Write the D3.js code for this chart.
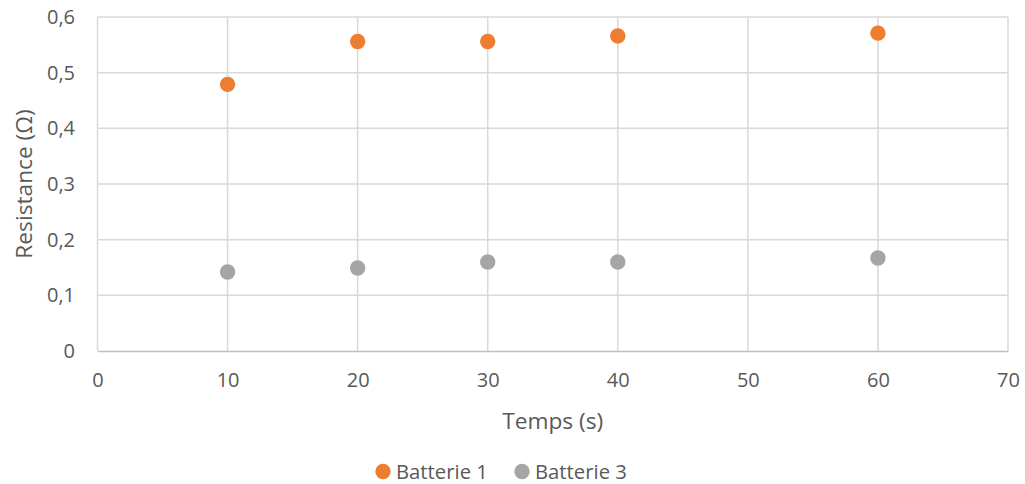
<!DOCTYPE html>
<html>
<head>
<meta charset="utf-8">
<script src="https://cdn.jsdelivr.net/npm/d3@7"></script>
<style>
  body { margin: 0; background: #fff; overflow: hidden; }
  text { font-family: "Open Sans", sans-serif; fill: #595959; }
</style>
</head>
<body>
<div id="graph"></div>
<script>
// data
const temps = [10, 20, 30, 40, 60];
const batterie1 = [0.479, 0.556, 0.556, 0.566, 0.571];
const batterie3 = [0.142, 0.149, 0.160, 0.160, 0.167];
const xTicks = [0, 10, 20, 30, 40, 50, 60, 70];
const yTicks = [0, 0.1, 0.2, 0.3, 0.4, 0.5, 0.6];
const seriesNames = ["Batterie 1", "Batterie 3"];
const colors = ["#ED7D31", "#A5A5A5"];

var margin = { top: 17, right: 17, bottom: 133, left: 97.5 },
  width = 1025 - margin.left - margin.right,
  height = 484 - margin.top - margin.bottom;

var svg = d3.select("#graph")
  .append("svg")
  .attr("width", 1025)
  .attr("height", 484)
  .style("display", "block");

var g = svg.append("g")
  .attr("transform", "translate(" + margin.left + "," + margin.top + ")");

var x = d3.scaleLinear().domain([0, 70]).range([0, width]);
var y = d3.scaleLinear().domain([0, 0.6]).range([height, 0]);

// french decimal comma
var fmt = d => d === 0 ? "0" : d3.format(".1f")(d).replace(".", ",");

// gridlines
g.append("g")
  .selectAll("line")
  .data(yTicks.slice(1))
  .enter().append("line")
  .attr("x1", 0).attr("x2", width)
  .attr("y1", d => y(d)).attr("y2", d => y(d))
  .attr("stroke", "#D9D9D9").attr("stroke-width", 1.5);

g.append("g")
  .selectAll("line")
  .data(xTicks)
  .enter().append("line")
  .attr("x1", d => x(d)).attr("x2", d => x(d))
  .attr("y1", 0).attr("y2", height)
  .attr("stroke", "#D9D9D9").attr("stroke-width", 1.5);

// x axis
var xAxis = d3.axisBottom(x).tickValues(xTicks).tickSize(0).tickPadding(22);
g.append("g")
  .attr("transform", "translate(0," + height + ")")
  .call(xAxis)
  .call(a => a.select(".domain").attr("stroke", "#BFBFBF").attr("stroke-width", 1.5))
  .selectAll("text")
  .style("font-size", "20px")
  .attr("fill", "#595959");

// y axis
var yAxis = d3.axisLeft(y).tickValues(yTicks).tickSize(0).tickPadding(22.5).tickFormat(fmt);
g.append("g")
  .call(yAxis)
  .call(a => a.select(".domain").remove())
  .selectAll("text")
  .style("font-size", "20px")
  .attr("fill", "#595959");

// points
[batterie1, batterie3].forEach(function(vals, i) {
  g.append("g")
    .selectAll("circle")
    .data(vals)
    .enter().append("circle")
    .attr("r", 7.7)
    .attr("cx", (d, j) => x(temps[j]))
    .attr("cy", d => y(d))
    .attr("fill", colors[i]);
});

// axis titles
svg.append("text")
  .attr("x", margin.left + x(35))
  .attr("y", 429)
  .attr("text-anchor", "middle")
  .style("font-size", "22.7px")
  .text("Temps (s)");

svg.append("text")
  .attr("transform", "translate(31.5," + (margin.top + height / 2) + ") rotate(-90)")
  .attr("text-anchor", "middle")
  .style("font-size", "22.7px")
  .text("Resistance (Ω)");

// legend
var legendX = [383, 522];
var legend = svg.append("g");
seriesNames.forEach(function(name, i) {
  legend.append("circle")
    .attr("cx", legendX[i]).attr("cy", 471.5)
    .attr("r", 7.7)
    .attr("fill", colors[i]);
  legend.append("text")
    .attr("x", legendX[i] + 13).attr("y", 478.5)
    .style("font-size", "20.3px")
    .text(name);
});
</script>
</body>
</html>
